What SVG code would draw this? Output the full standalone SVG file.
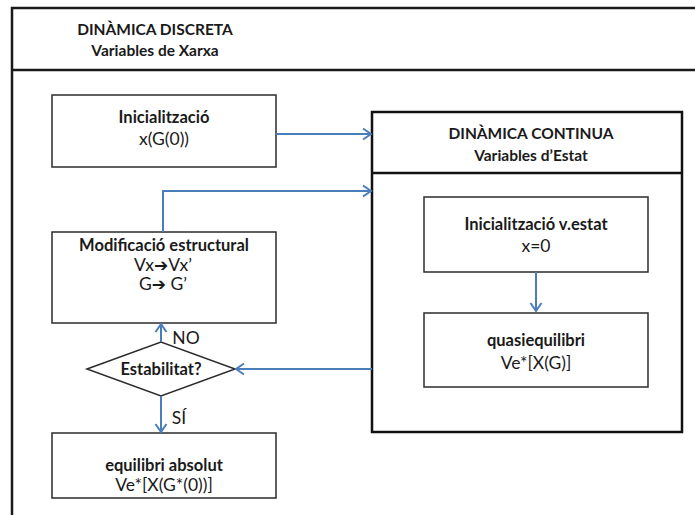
<svg xmlns="http://www.w3.org/2000/svg" width="695" height="515" viewBox="0 0 695 515">
  <style>
    .frame { fill: none; stroke: #1a1a1a; stroke-width: 2.5; }
    .box { fill: #ffffff; stroke: #2b2b2b; stroke-width: 1.5; }
    .cont { fill: #ffffff; stroke: #111111; stroke-width: 2.5; }
    .conn { fill: none; stroke: #4a7ebb; stroke-width: 2; }
    text { font-family: Lato, "Liberation Sans", sans-serif; font-size: 17.5px; fill: #1a1a1a; text-anchor: middle; }
    .b { font-weight: bold; font-size: 16.5px; }
    .h { font-weight: bold; font-size: 15.5px; }
    .arr { font-family: "DejaVu Sans", sans-serif; font-weight: bold; font-size: 17px; }
  </style>
  <defs>
    <marker id="open" markerUnits="userSpaceOnUse" markerWidth="12" markerHeight="14" viewBox="0 0 12 14" refX="10" refY="7" orient="auto">
      <path d="M2,1.5 L10,7 L2,12.5" fill="none" stroke="#4a7ebb" stroke-width="2"/>
    </marker>
  </defs>

  <rect width="695" height="515" fill="#ffffff"/>

  <!-- outer frame: discrete dynamics swimlane -->
  <g id="discrete-frame">
    <path class="frame" d="M12,515 V8 H695"/>
    <line class="frame" x1="12" y1="70" x2="695" y2="70"/>
    <text class="h" x="155" y="35">DINÀMICA DISCRETA</text>
    <text class="h" x="155" y="56">Variables de Xarxa</text>
  </g>

  <!-- continuous dynamics container -->
  <g id="continuous">
    <rect class="cont" x="372" y="112" width="310" height="320"/>
    <line class="cont" x1="372" y1="173" x2="682" y2="173"/>
    <text class="h" x="531" y="139">DINÀMICA CONTINUA</text>
    <text class="h" x="531" y="161">Variables d’Estat</text>
  </g>

  <g id="init">
    <rect class="box" x="52" y="95" width="224" height="72"/>
    <text class="b" x="164" y="123">Inicialització</text>
    <text x="164" y="145">x(G(0))</text>
  </g>

  <g id="init-state">
    <rect class="box" x="424" y="197" width="224" height="75"/>
    <text class="b" x="536" y="230">Inicialització v.estat</text>
    <text x="536" y="252">x=0</text>
  </g>

  <g id="quasi">
    <rect class="box" x="424" y="313" width="224" height="74"/>
    <text class="b" x="536" y="346">quasiequilibri</text>
    <text x="536" y="369">Ve*[X(G)]</text>
  </g>

  <g id="modif">
    <rect class="box" x="52" y="232" width="224" height="91"/>
    <text class="b" x="164" y="251">Modificació estructural</text>
    <text x="163" y="271">Vx<tspan class="arr">➔</tspan>Vx’</text>
    <text x="163" y="290">G<tspan class="arr">➔</tspan> G’</text>
  </g>

  <g id="stability">
    <polygon class="box" points="87,369 161,342 235,369 161,396"/>
    <text class="b" x="161" y="375">Estabilitat?</text>
  </g>

  <g id="absolute">
    <rect class="box" x="52" y="433" width="224" height="65"/>
    <text class="b" x="164" y="471">equilibri absolut</text>
    <text x="164" y="491">Ve*[X(G*(0))]</text>
  </g>

  <!-- connectors -->
  <g id="connectors">
    <path class="conn" d="M276,134 H371" marker-end="url(#open)"/>
    <path class="conn" d="M163,232 V191 H371" marker-end="url(#open)"/>
    <path class="conn" d="M536,272 V311" marker-end="url(#open)"/>
    <path class="conn" d="M372,369 H236" marker-end="url(#open)"/>
    <path class="conn" d="M161,342 V324" marker-end="url(#open)"/>
    <path class="conn" d="M161,396 V432" marker-end="url(#open)"/>
    <text x="186" y="344">NO</text>
    <text x="179" y="424">SÍ</text>
  </g>
</svg>
